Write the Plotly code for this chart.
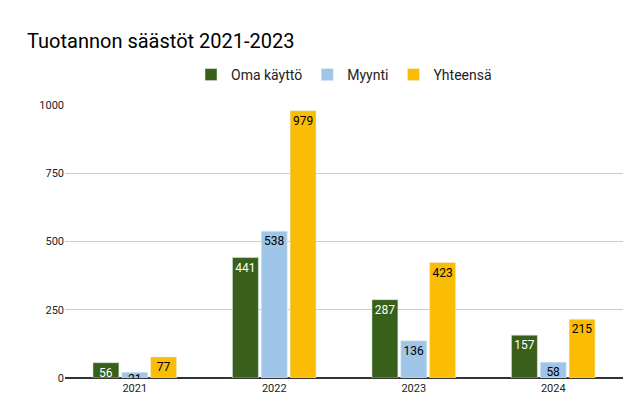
import plotly.graph_objects as go

years = ["2021", "2022", "2023", "2024"]
oma = [56, 441, 287, 157]
myynti = [21, 538, 136, 58]
yhteensa = [77, 979, 423, 215]

series = [("Oma käyttö", oma, "#38601a", "white"),
          ("Myynti", myynti, "#9fc5e8", "black"),
          ("Yhteensä", yhteensa, "#fbbc04", "black")]

fig = go.Figure()
for name, vals, col, tc in series:
    fig.add_trace(go.Bar(x=years, y=vals, name=name, marker_color=col,
                         text=vals, textposition="inside", insidetextanchor="end",
                         textfont=dict(color=tc, size=12), textangle=0,
                         constraintext="none"))

fig.update_layout(
    width=635, height=411, barmode="group", bargap=0.38, bargroupgap=0.1,
    plot_bgcolor="white", paper_bgcolor="white",
    font=dict(family="Roboto, Arial", color="#222"),
    title=dict(text="Tuotannon säästöt 2021-2023", x=0.03, xanchor="left", y=0.92, yanchor="middle",
               font=dict(size=20, color="black")),
    legend=dict(orientation="h", x=0.5, xanchor="center", y=1.11, yanchor="middle", font=dict(size=14)),
    margin=dict(l=57, r=20, t=97, b=41),
    uniformtext=dict(minsize=12, mode="show"),
    yaxis=dict(range=[0, 1000], tickvals=[0, 250, 500, 750, 1000], gridcolor="#cccccc",
               tickfont=dict(size=11), zeroline=True, zerolinecolor="#333", ticks="",
               automargin=False),
    xaxis=dict(tickfont=dict(size=11), showline=True, linecolor="#333", automargin=False),
)
fig.write_html("out.html")
